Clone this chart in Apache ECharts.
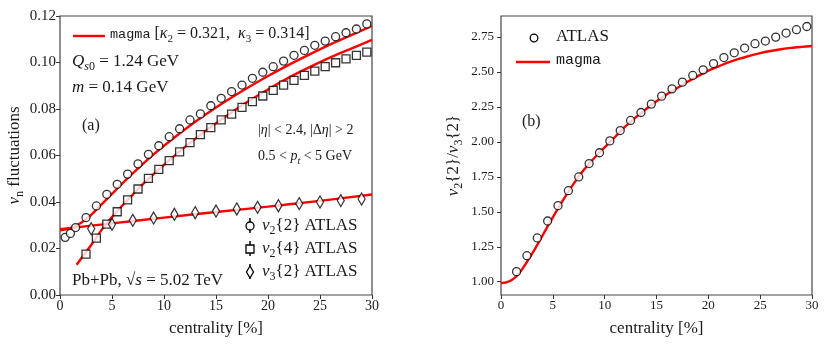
<!DOCTYPE html>
<html>
<head>
<meta charset="utf-8">
<script src="https://cdn.jsdelivr.net/npm/echarts@6/dist/echarts.min.js"></script>
<style>
html, body { margin: 0; padding: 0; background: #fff; }
#chart { width: 830px; height: 344px; }
</style>
</head>
<body>
<div id="chart"></div>
<script>
// panel (a): ATLAS points
var v22X = [0.5, 1, 1.5, 2.5, 3.5, 4.5, 5.5, 6.5, 7.5, 8.5, 9.5, 10.5, 11.5, 12.5, 13.5, 14.5, 15.5, 16.5, 17.5, 18.5, 19.5, 20.5, 21.5, 22.5, 23.5, 24.5, 25.5, 26.5, 27.5, 28.5, 29.5];
var v22Y = [0.0248, 0.0265, 0.029, 0.0333, 0.0383, 0.0433, 0.0476, 0.052, 0.0564, 0.0605, 0.0642, 0.0681, 0.0715, 0.0753, 0.0779, 0.0814, 0.0846, 0.0875, 0.0903, 0.0932, 0.0958, 0.0982, 0.1006, 0.1031, 0.1052, 0.1074, 0.1092, 0.1111, 0.1128, 0.1144, 0.1166];
var v24X = [2.5, 3.5, 4.5, 5.5, 6.5, 7.5, 8.5, 9.5, 10.5, 11.5, 12.5, 13.5, 14.5, 15.5, 16.5, 17.5, 18.5, 19.5, 20.5, 21.5, 22.5, 23.5, 24.5, 25.5, 26.5, 27.5, 28.5, 29.5];
var v24Y = [0.0176, 0.0245, 0.0305, 0.0358, 0.0409, 0.0456, 0.0502, 0.054, 0.0578, 0.0616, 0.0655, 0.069, 0.072, 0.0753, 0.0778, 0.0807, 0.0832, 0.0856, 0.088, 0.0903, 0.0923, 0.0945, 0.0963, 0.0982, 0.0999, 0.1016, 0.1031, 0.1045];
var v32X = [3, 5, 7, 9, 11, 13, 15, 17, 19, 21, 23, 25, 27, 29];
var v32Y = [0.0285, 0.0304, 0.0321, 0.0331, 0.0347, 0.0354, 0.0361, 0.037, 0.0377, 0.0384, 0.0393, 0.04, 0.0406, 0.0413];

// panel (a): magma curves
var m22X = [0, 1, 2, 3, 4, 5, 6, 7, 8, 9, 10, 12, 14, 16, 18, 20, 22, 24, 26, 28, 30];
var m22Y = [0.0278, 0.0288, 0.031, 0.0345, 0.039, 0.0435, 0.048, 0.0523, 0.0565, 0.0605, 0.0642, 0.0712, 0.0776, 0.0835, 0.089, 0.0942, 0.099, 0.1035, 0.1078, 0.1118, 0.1157];
var m24X = [1.6, 2, 3, 4, 5, 6, 7, 8, 9, 10, 12, 14, 16, 18, 20, 22, 24, 26, 28, 30];
var m24Y = [0.013, 0.0155, 0.0215, 0.028, 0.0335, 0.0385, 0.0432, 0.0478, 0.052, 0.056, 0.0636, 0.0706, 0.077, 0.083, 0.0884, 0.0935, 0.098, 0.1022, 0.106, 0.1097];
var m32X = [0, 5, 10, 15, 20, 25, 30];
var m32Y = [0.0283, 0.0308, 0.0333, 0.0357, 0.038, 0.0405, 0.0432];

// panel (b): ratio
var ratioX = [1.5, 2.5, 3.5, 4.5, 5.5, 6.5, 7.5, 8.5, 9.5, 10.5, 11.5, 12.5, 13.5, 14.5, 15.5, 16.5, 17.5, 18.5, 19.5, 20.5, 21.5, 22.5, 23.5, 24.5, 25.5, 26.5, 27.5, 28.5, 29.5];
var ratioY = [1.072, 1.186, 1.313, 1.434, 1.544, 1.651, 1.749, 1.845, 1.922, 2.007, 2.081, 2.153, 2.21, 2.27, 2.327, 2.379, 2.427, 2.475, 2.515, 2.56, 2.603, 2.637, 2.671, 2.702, 2.721, 2.749, 2.778, 2.802, 2.825];
var mRatioX = [0, 0.5, 1, 1.5, 2, 3, 4, 5, 6, 7, 8, 9, 10, 11, 12, 13, 14, 15, 16, 17, 18, 19, 20, 21, 22, 23, 24, 25, 26, 27, 28, 29, 30];
var mRatioY = [0.99, 0.995, 1.01, 1.04, 1.085, 1.2, 1.33, 1.46, 1.585, 1.7, 1.8, 1.885, 1.96, 2.035, 2.11, 2.175, 2.235, 2.29, 2.34, 2.385, 2.43, 2.47, 2.51, 2.54, 2.57, 2.595, 2.615, 2.635, 2.65, 2.662, 2.672, 2.679, 2.685];

var yTicksA = [0, 0.02, 0.04, 0.06, 0.08, 0.10, 0.12];
var yTicksB = [1.00, 1.25, 1.50, 1.75, 2.00, 2.25, 2.50, 2.75];

var SERIF = '"Liberation Serif", "DejaVu Serif", serif';
var MONO = '"Liberation Mono", "DejaVu Sans Mono", monospace';
var INK = '#1a1a1a';
var RED = '#ff0000';

function pairs(xs, ys) {
    return xs.map(function (x, i) { return [x, ys[i]]; });
}

function xAxisOf(grid, size) {
    return {
        gridIndex: grid, type: 'value', min: 0, max: 30, interval: 5,
        name: 'centrality [%]', nameLocation: 'middle', nameGap: 25,
        nameTextStyle: { fontFamily: SERIF, fontSize: 17, color: INK },
        axisLine: { show: false },
        axisTick: { show: true, inside: false, length: 4, lineStyle: { color: '#333' } },
        axisLabel: { fontFamily: SERIF, fontSize: size, color: INK, margin: 4 },
        splitLine: { show: false }
    };
}

var richBase = {
    i: { fontFamily: SERIF, fontStyle: 'italic', fontSize: 17, color: INK },
    r: { fontFamily: SERIF, fontSize: 17, color: INK },
    s: { fontFamily: SERIF, fontSize: 12, color: INK, verticalAlign: 'bottom', padding: [0, 0, -3, 0] },
    si: { fontFamily: SERIF, fontStyle: 'italic', fontSize: 12, color: INK, verticalAlign: 'bottom', padding: [0, 0, -3, 0] },
    m: { fontFamily: MONO, fontSize: 14, color: INK }
};

function txt(x, y, text, size, extra) {
    var rich = {};
    Object.keys(richBase).forEach(function (k) {
        var o = Object.assign({}, richBase[k]);
        if (size && k !== 's' && k !== 'si') o.fontSize = size;
        if (size && (k === 's' || k === 'si')) o.fontSize = Math.round(size * 0.7);
        rich[k] = o;
    });
    if (extra) Object.keys(extra).forEach(function (k) { rich[k] = Object.assign(rich[k] || {}, extra[k]); });
    return {
        type: 'text', left: x, top: y, z: 100,
        style: { text: text, rich: rich, fill: INK, font: (size || 15) + 'px ' + SERIF, verticalAlign: 'middle' }
    };
}

function keyMarker(x, y, symbol) {
    // marker with a short error bar, as in the legend
    return [
        { type: 'line', z: 100, shape: { x1: x, y1: y - 8, x2: x, y2: y + 7 }, style: { stroke: '#000', lineWidth: 1.5 } },
        symbol
    ];
}

var chart = echarts.init(document.getElementById('chart'), null, { renderer: 'canvas' });

var option = {
    backgroundColor: '#fff',
    animation: false,
    grid: [
        { left: 60, top: 16, width: 312, height: 279, show: true, borderColor: '#444', borderWidth: 1.2, backgroundColor: 'transparent', containLabel: false, outerBoundsMode: 'none' },
        { left: 501, top: 16, width: 311, height: 279, show: true, borderColor: '#444', borderWidth: 1.2, backgroundColor: 'transparent', containLabel: false, outerBoundsMode: 'none' }
    ],
    xAxis: [xAxisOf(0, 14), xAxisOf(1, 13)],
    yAxis: [
        {
            gridIndex: 0, type: 'value', min: 0, max: 0.12,
            name: '{i|v}{s|n} fluctuations', nameLocation: 'middle', nameGap: 37,
            nameTextStyle: { fontFamily: SERIF, fontSize: 17, color: INK, rich: richBase },
            axisLine: { show: false },
            axisTick: { show: true, length: 4, customValues: yTicksA, lineStyle: { color: '#333' } },
            axisLabel: { customValues: yTicksA, fontFamily: SERIF, fontSize: 15, color: INK, margin: 4, formatter: function (v) { return v.toFixed(2); } },
            splitLine: { show: false }
        },
        {
            gridIndex: 1, type: 'value', min: 0.905, max: 2.9,
            name: '{i|v}{s|2}{2}/{i|v}{s|3}{2}', nameLocation: 'middle', nameGap: 39,
            nameTextStyle: { fontFamily: SERIF, fontSize: 17, color: INK, rich: richBase },
            axisLine: { show: false },
            axisTick: { show: true, length: 4, customValues: yTicksB, lineStyle: { color: '#333' } },
            axisLabel: { customValues: yTicksB, fontFamily: SERIF, fontSize: 13, color: INK, margin: 7, formatter: function (v) { return v.toFixed(2); } },
            splitLine: { show: false }
        }
    ],
    series: [
        { type: 'line', xAxisIndex: 0, yAxisIndex: 0, data: pairs(m22X, m22Y), smooth: 0.3, showSymbol: false, lineStyle: { color: RED, width: 2.4 }, z: 2 },
        { type: 'line', xAxisIndex: 0, yAxisIndex: 0, data: pairs(m24X, m24Y), smooth: 0.3, showSymbol: false, lineStyle: { color: RED, width: 2.4 }, z: 2 },
        { type: 'line', xAxisIndex: 0, yAxisIndex: 0, data: pairs(m32X, m32Y), smooth: 0.3, showSymbol: false, lineStyle: { color: RED, width: 2.4 }, z: 2 },
        { type: 'scatter', xAxisIndex: 0, yAxisIndex: 0, data: pairs(v22X, v22Y), symbol: 'circle', symbolSize: 8, itemStyle: { color: '#fff', borderColor: '#000', borderWidth: 1.3 }, z: 5 },
        { type: 'scatter', xAxisIndex: 0, yAxisIndex: 0, data: pairs(v24X, v24Y), symbol: 'rect', symbolSize: 8, itemStyle: { color: '#fff', borderColor: '#000', borderWidth: 1.3 }, z: 5 },
        { type: 'scatter', xAxisIndex: 0, yAxisIndex: 0, data: pairs(v32X, v32Y), symbol: 'diamond', symbolSize: [7, 12], itemStyle: { color: '#fff', borderColor: '#000', borderWidth: 1.3 }, z: 5 },
        { type: 'line', xAxisIndex: 1, yAxisIndex: 1, data: pairs(mRatioX, mRatioY), smooth: 0.3, showSymbol: false, lineStyle: { color: RED, width: 2.4 }, z: 2 },
        { type: 'scatter', xAxisIndex: 1, yAxisIndex: 1, data: pairs(ratioX, ratioY), symbol: 'circle', symbolSize: 8, itemStyle: { color: '#fff', borderColor: '#000', borderWidth: 1.3 }, z: 5 }
    ],
    graphic: [].concat(
        [
            // panel (a) annotations
            { type: 'line', z: 100, shape: { x1: 73, y1: 36, x2: 105, y2: 36 }, style: { stroke: RED, lineWidth: 2.4 } },
            txt(110, 26, '{m|magma} [{i|κ}{s|2} = 0.321,  {i|κ}{s|3} = 0.314]', 16, { m: { fontSize: 13.5 } }),
            txt(72, 53, '{i|Q}{si|s}{s|0} = 1.24 GeV', 17),
            txt(72, 79, '{i|m} = 0.14 GeV', 17),
            txt(82, 118, '(a)', 16),
            txt(258, 123, '|{i|η}| < 2.4, |Δ{i|η}| > 2', 14),
            txt(258, 149, '0.5 < {i|p}{si|t} < 5 GeV', 14),
            txt(72, 272, 'Pb+Pb, √{i|s} = 5.02 TeV', 17),
            txt(262, 217, '{i|v}{s|2}{2} ATLAS', 17),
            txt(262, 240, '{i|v}{s|2}{4} ATLAS', 17),
            txt(262, 263, '{i|v}{s|3}{2} ATLAS', 17),
            // panel (b) annotations
            txt(522, 114, '(b)', 16),
            { type: 'circle', z: 100, shape: { cx: 534, cy: 38, r: 3.8 }, style: { fill: '#fff', stroke: '#000', lineWidth: 1.3 } },
            txt(556, 28, 'ATLAS', 17),
            { type: 'line', z: 100, shape: { x1: 516, y1: 62, x2: 550, y2: 62 }, style: { stroke: RED, lineWidth: 2.4 } },
            txt(556, 53, '{m|magma}', 16, { m: { fontSize: 15 } })
        ],
        keyMarker(250, 226, { type: 'circle', z: 101, shape: { cx: 250, cy: 226, r: 4 }, style: { fill: '#fff', stroke: '#000', lineWidth: 1.3 } }),
        keyMarker(250, 249, { type: 'rect', z: 101, shape: { x: 246, y: 245, width: 8, height: 8 }, style: { fill: '#fff', stroke: '#000', lineWidth: 1.3 } }),
        keyMarker(250, 272, { type: 'polygon', z: 101, shape: { points: [[250, 266], [253.5, 272], [250, 278], [246.5, 272]] }, style: { fill: '#fff', stroke: '#000', lineWidth: 1.3 } })
    )
};

chart.setOption(option);
</script>
</body>
</html>
